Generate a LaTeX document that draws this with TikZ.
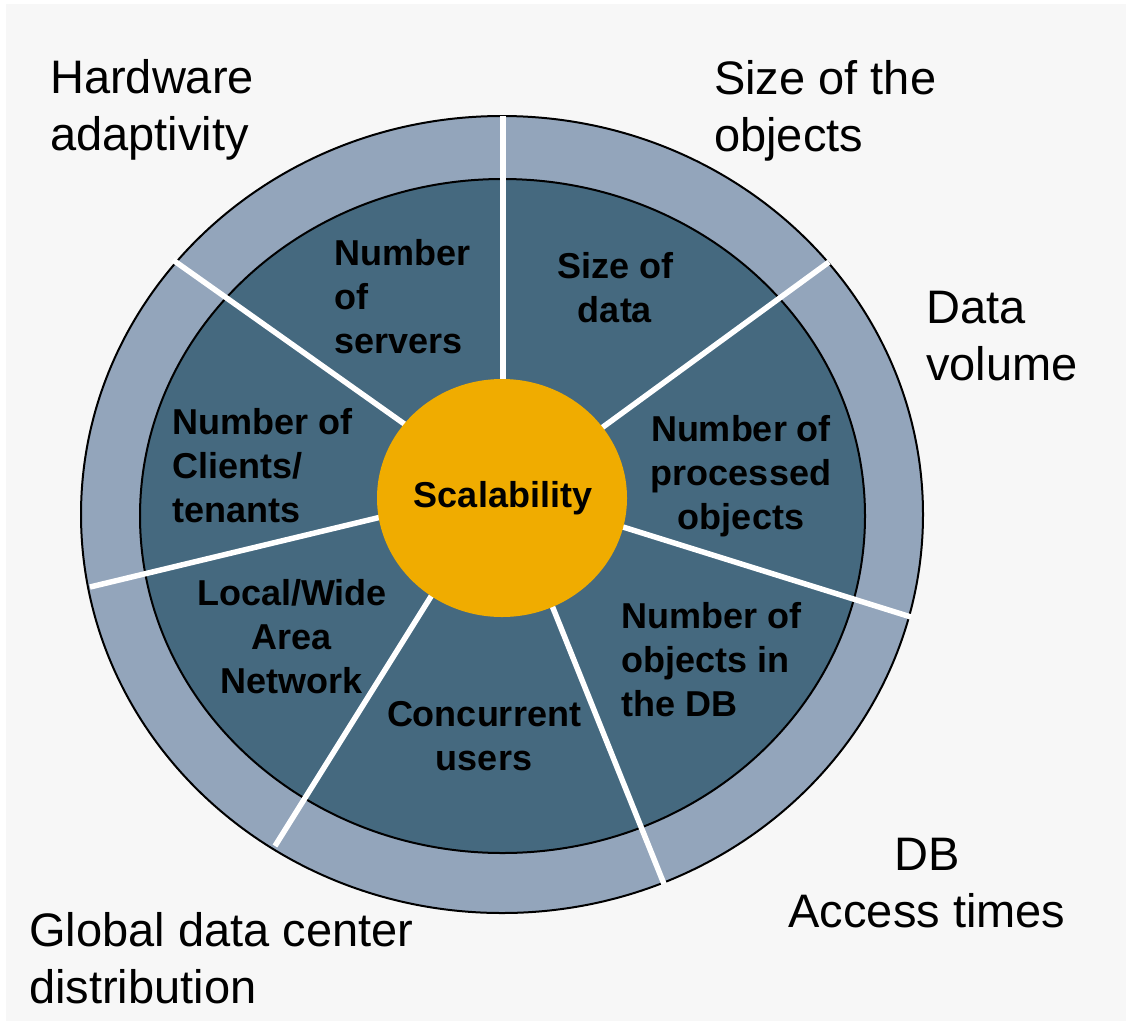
\documentclass[tikz,border=0pt]{standalone}
\usepackage{fontspec}
\setmainfont{Liberation Sans}

\definecolor{bggray}{HTML}{F7F7F7}
\definecolor{ringblue}{HTML}{93A5BB}
\definecolor{coreblue}{HTML}{45697F}
\definecolor{scalorange}{HTML}{F0AC00}

\begin{document}
\begin{tikzpicture}[x=1pt,y=-1pt,
    spoke/.style={white, line width=5.5pt, shorten >=-8pt},
    outerlabel/.style={inner sep=0pt, font=\fontsize{47}{57}\selectfont},
    innerlabel/.style={inner sep=0pt, font=\fontsize{36}{44}\selectfont\bfseries}]
    \useasboundingbox (0,0) rectangle (1126,1021);
    \fill[white] (0,0) rectangle (1126,1021);
    \fill[bggray] (6,4) rectangle (1126,1021);

    % die beiden Ringe
    \draw[line width=2pt, fill=ringblue] (502,514.5) ellipse [x radius=421, y radius=398.5];
    \draw[line width=2pt, fill=coreblue] (502.5,516) ellipse [x radius=362.5, y radius=337];

    % Speichen
    \foreach \xa/\ya/\xb/\yb in {503/116/503/379, 173/260/403/423, 829/262/603/427,
        911/617/623/527, 664/884/553/608, 275/846/430/598, 90/587/377/518}
        \draw[spoke] (\xa,\ya) -- (\xb,\yb);

    % Mitte
    \fill[scalorange] (502,498) ellipse [x radius=125, y radius=119];
    \node[innerlabel, anchor=base] (scal) at (503,507) {Scalability};

    % innere Felder (base = letzte Zeile)
    \node[innerlabel, align=left, anchor=base west] (servers) at (334,353) {Number\\of\\servers};
    \node[innerlabel, align=center, anchor=base] (sizedata) at (615,322) {Size of\\data};
    \node[innerlabel, align=left, anchor=base west] (clients) at (172,522) {Number of\\Clients/\\tenants};
    \node[innerlabel, align=center, anchor=base] (processed) at (741,529) {Number of\\processed\\objects};
    \node[innerlabel, align=center, anchor=base] (network) at (292,693) {Local/Wide\\Area\\Network};
    \node[innerlabel, align=left, anchor=base west] (objdb) at (621,716) {Number of\\objects in\\the DB};
    \node[innerlabel, align=center, anchor=base] (users) at (484,770) {Concurrent\\users};

    % aeussere Beschriftungen
    \node[outerlabel, align=left, anchor=base west] (hardware) at (50,150) {Hardware\\adaptivity};
    \node[outerlabel, align=left, anchor=base west] (sizeobj) at (714,151) {Size of the\\objects};
    \node[outerlabel, align=left, anchor=base west] (datavol) at (926,380) {Data\\volume};
    \node[outerlabel, align=center, anchor=base] (dbaccess) at (927,927) {DB\\Access times};
    \node[outerlabel, align=left, anchor=base west] (global) at (29,1003) {Global data center\\distribution};
\end{tikzpicture}
\end{document}
